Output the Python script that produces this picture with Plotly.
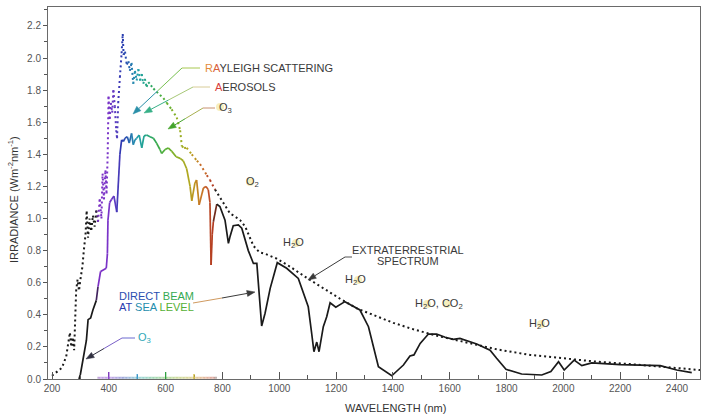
import math
import plotly.graph_objects as go

# Extraterrestrial solar spectrum (dotted)
et_wl = [200, 215, 235, 250, 258, 263, 268, 273, 278, 285, 290, 295, 300, 307, 312, 318,
         322, 327, 332, 338, 344, 350, 356, 362, 368, 374, 378, 383, 388, 392, 396, 399,
         403, 407, 412, 416, 421, 426, 429, 433, 439, 445, 449, 452, 457, 463, 469, 474,
         480, 486, 492, 498, 504, 510, 516, 521, 527, 533, 539, 548, 557, 568, 580, 592,
         604, 621, 639, 651, 657, 665, 674, 692, 710, 721, 745, 756, 774, 791, 803, 827,
         838, 862, 880, 909, 930, 950, 991, 1038, 1097, 1155, 1214, 1273, 1331, 1401,
         1472, 1542, 1648, 1765, 1883, 2000, 2117, 2235, 2352, 2481]
et_irr = [0.02, 0.04, 0.07, 0.14, 0.25, 0.29, 0.20, 0.26, 0.18, 0.55, 0.62, 0.55, 0.62, 0.70,
          0.80, 0.90, 1.05, 0.88, 1.00, 0.92, 1.02, 0.95, 1.05, 0.98, 1.12, 1.00, 1.28, 1.12,
          1.30, 1.15, 1.40, 1.76, 1.62, 1.72, 1.66, 1.80, 1.70, 1.55, 1.50, 1.72, 1.88, 2.03,
          2.15, 2.02, 2.04, 1.96, 1.98, 1.92, 1.97, 1.84, 1.92, 1.86, 1.93, 1.86, 1.90, 1.84,
          1.87, 1.82, 1.85, 1.83, 1.81, 1.79, 1.77, 1.75, 1.72, 1.68, 1.63, 1.55, 1.45, 1.44,
          1.44, 1.40, 1.36, 1.34, 1.27, 1.24, 1.18, 1.13, 1.10, 1.03, 1.02, 0.99, 0.95, 0.83,
          0.79, 0.78, 0.75, 0.70, 0.63, 0.565, 0.50, 0.44, 0.40, 0.35, 0.31, 0.275, 0.232,
          0.185, 0.15, 0.129, 0.108, 0.093, 0.077, 0.056]

# Direct beam at sea level (solid)
db_wl = [295, 300, 309, 321, 327, 336, 344, 356, 362, 371, 391, 395, 397, 403, 410, 418,
         428, 439, 445, 451, 457, 465, 472, 480, 486, 492, 498, 507, 516, 524, 533, 545,
         557, 568, 580, 586, 598, 609, 621, 637, 651, 662, 674, 686, 692, 703, 709, 718,
         733, 742, 750, 756, 760, 764, 768, 780, 791, 809, 821, 827, 838, 856, 868, 891,
         909, 921, 926, 938, 950, 968, 993, 1026, 1067, 1085, 1102, 1114, 1122, 1132, 1140,
         1155, 1167, 1179, 1199, 1231, 1284, 1314, 1331, 1349, 1396, 1437, 1460, 1474, 1496,
         1525, 1554, 1584, 1613, 1636, 1695, 1742, 1765, 1798, 1853, 1924, 1956, 1983, 2003,
         2038, 2065, 2100, 2200, 2341, 2399, 2452]
db_irr = [0.0, 0.03, 0.12, 0.24, 0.37, 0.38, 0.43, 0.49, 0.575, 0.67, 0.69, 0.78, 0.99, 1.10,
          1.12, 1.14, 1.04, 1.40, 1.49, 1.48, 1.50, 1.51, 1.47, 1.53, 1.46, 1.49, 1.50, 1.52,
          1.44, 1.515, 1.52, 1.51, 1.50, 1.47, 1.43, 1.405, 1.43, 1.44, 1.42, 1.385, 1.375,
          1.36, 1.31, 1.20, 1.11, 1.22, 1.24, 1.085, 1.19, 1.20, 1.18, 1.10, 0.71, 0.90, 0.98,
          1.09, 1.075, 0.99, 0.845, 0.89, 0.955, 0.96, 0.94, 0.80, 0.72, 0.72, 0.62, 0.33,
          0.41, 0.565, 0.725, 0.69, 0.627, 0.534, 0.45, 0.285, 0.17, 0.23, 0.17, 0.326, 0.388,
          0.475, 0.447, 0.482, 0.43, 0.326, 0.20, 0.077, 0.02, 0.087, 0.143, 0.15, 0.222, 0.28,
          0.28, 0.26, 0.247, 0.253, 0.218, 0.18, 0.129, 0.06, 0.031, 0.025, 0.046, 0.108,
          0.056, 0.118, 0.083, 0.10, 0.09, 0.083, 0.056, 0.04]

x_tick_vals = list(range(200, 2401, 200))
y_tick_vals = [round(0.2 * i, 1) for i in range(12)]

# Colour stops for the visible part of both curves
band_wl = [355, 365, 400, 425, 445, 465, 485, 505, 530, 560, 600, 640, 680, 705, 730, 750, 768, 782]
band_col = ["#1a1a1a", "#7b2fc4", "#7a34c8", "#5a3cc0", "#2a38b0", "#2a55b0", "#2483b0",
            "#20a0a8", "#25a588", "#30a855", "#55b035", "#90b025", "#b0a820", "#c09020",
            "#c87028", "#c05028", "#b03820", "#1a1a1a"]
INK = "#1a1a1a"

# Figure frame (pixels)
W, H = 702, 417
ML, MR, MT, MB = 48, 2, 7, 38
PW, PH = W - ML - MR, H - MT - MB
X_RANGE = [185.9, 2481]
Y_RANGE = [0, 2.318]


def hex2rgb(h):
    h = h.lstrip("#")
    return [int(h[i:i + 2], 16) for i in (0, 2, 4)]


def rgb2hex(c):
    return "#%02x%02x%02x" % tuple(int(round(v)) for v in c)


def spectral(wl):
    if wl <= band_wl[0] or wl >= band_wl[-1]:
        return INK
    for i in range(len(band_wl) - 1):
        if band_wl[i] <= wl <= band_wl[i + 1]:
            t = (wl - band_wl[i]) / (band_wl[i + 1] - band_wl[i])
            a, b = hex2rgb(band_col[i]), hex2rgb(band_col[i + 1])
            return rgb2hex([a[k] + (b[k] - a[k]) * t for k in range(3)])
    return INK


def pastel(h, f=0.55):
    c = hex2rgb(h)
    return rgb2hex([v + (255 - v) * f for v in c])


def P(px, py):
    """pixel position -> paper coordinates"""
    return (px - ML) / PW, (MT + PH - py) / PH


fig = go.Figure()


def add_curve(wl, irr, dash, width):
    runs = []
    for i in range(len(wl) - 1):
        c = spectral((wl[i] + wl[i + 1]) / 2)
        if runs and runs[-1][0] == c:
            runs[-1][1].append(wl[i + 1])
            runs[-1][2].append(irr[i + 1])
        else:
            runs.append([c, [wl[i], wl[i + 1]], [irr[i], irr[i + 1]]])
    for c, xs, ys in runs:
        fig.add_trace(go.Scatter(x=xs, y=ys, mode="lines", showlegend=False, hoverinfo="skip",
                                 line=dict(color=c, width=width, dash=dash)))


add_curve(et_wl, et_irr, "2px,3px", 2)
add_curve(db_wl, db_irr, "solid", 1.7)

shapes = []

# pastel visible band along the wavelength axis
for w0 in range(360, 780, 5):
    shapes.append(dict(type="line", xref="x", yref="paper", x0=w0, x1=w0 + 5,
                       y0=1.2 / PH, y1=1.2 / PH, line=dict(color=pastel(spectral(w0 + 2.5)), width=2)))

# coloured tick marks in the visible range
for wv, col, ln in [(400, "#8a3cd0", 7), (500, "#3a9ad0", 5), (600, "#30a040", 7), (700, "#d0b830", 5)]:
    shapes.append(dict(type="line", xref="x", yref="paper", x0=wv, x1=wv, y0=0, y1=ln / PH,
                       line=dict(color=col, width=1.3)))


def seg(p0, p1, color, width=1):
    x0, y0 = P(*p0)
    x1, y1 = P(*p1)
    shapes.append(dict(type="line", xref="paper", yref="paper", x0=x0, y0=y0, x1=x1, y1=y1,
                       line=dict(color=color, width=width)))


def arrow(head, tail, color, length=8, half=3):
    """line from tail to head, finished with a filled triangular head"""
    dx, dy = head[0] - tail[0], head[1] - tail[1]
    n = math.hypot(dx, dy)
    ux, uy = dx / n, dy / n
    base = (head[0] - ux * length, head[1] - uy * length)
    seg(tail, base, color)
    c1 = (base[0] - uy * half, base[1] + ux * half)
    c2 = (base[0] + uy * half, base[1] - ux * half)
    pts = [P(*head), P(*c1), P(*c2)]
    path = "M %f %f L %f %f L %f %f Z" % (pts[0] + pts[1] + pts[2])
    shapes.append(dict(type="path", xref="paper", yref="paper", path=path,
                       fillcolor=color, line=dict(color=color, width=0.5)))


def mid(a, b, t=0.5):
    return (a[0] + (b[0] - a[0]) * t, a[1] + (b[1] - a[1]) * t)


def label(px, py, text, color="#3a3a3a", size=11, anchor="left", angle=0):
    x, y = P(px, py)
    fig.add_annotation(x=x, y=y, xref="paper", yref="paper", text=text, showarrow=False,
                       xanchor=anchor, yanchor="middle", textangle=angle,
                       font=dict(size=size, color=color))


# Rayleigh scattering callout
seg((200, 68), (182, 68), "#a8c850")
elbow, head = (182, 68), (133, 114)
seg(elbow, mid(elbow, head), "#78c050")
arrow(head, mid(elbow, head), "#2a8fa8")
label(203, 68, "<span style='color:#e38a3a'>R</span><span style='color:#d8603a'>A</span>YLEIGH SCATTERING")

# Aerosols callout
seg((210, 87), (193, 87), "#d8cc98")
elbow, head = (193, 87), (144, 113)
seg(elbow, mid(elbow, head), "#a8c878")
arrow(head, mid(elbow, head), "#38b088")
label(213, 87, "<span style='color:#d8403a'>A</span>EROSOLS")

# Ozone callout (upper)
seg((215, 108), (203, 108), "#c89070")
elbow, head = (203, 108), (168, 129)
seg(elbow, mid(elbow, head), "#a8b050")
arrow(head, mid(elbow, head), "#44a42c")
label(217, 108, "O<sub>3</sub>")

# Ozone callout (lower)
seg((135, 338), (122, 338), "#6a6ad0")
elbow, head = (122, 338), (86, 359)
seg(elbow, mid(elbow, head), "#7a60c8")
arrow(head, mid(elbow, head), "#303040")
label(136, 338, "O<sub>3</sub>", color="#30a8b8")

# Direct beam callout
seg((193, 303), (222, 298), "#d09a60")
arrow((255, 292), (222, 298), "#3a3a3a")


def rainbow_words(words):
    return " ".join("<span style='color:%s'>%s</span>" % (spectral(w), s) for s, w in words)


label(117, 296, rainbow_words([("DIRECT", 460), ("BEAM", 565)]))
label(117, 307, rainbow_words([("AT", 448), ("SEA", 492), ("LEVEL", 600)]))

# Extraterrestrial callout
seg((352, 257), (345, 257), "#555555")
arrow((308, 280), (345, 257), "#3a3a3a")
label(408, 250, "EXTRATERRESTRIAL", anchor="center")
label(408, 261, "SPECTRUM", anchor="center")

# absorbing species; O glyphs sit on pale yellow discs
for cx, cy in [(250, 182), (296, 243), (358, 280), (427, 304), (447, 304), (541, 324), (220, 107)]:
    x0, y0 = P(cx - 4, cy + 4)
    x1, y1 = P(cx + 4, cy - 4)
    shapes.append(dict(type="circle", xref="paper", yref="paper", x0=x0, y0=y0, x1=x1, y1=y1,
                       fillcolor="#f7efbd", line=dict(width=0), layer="above"))

label(252, 182, "O<sub>2</sub>", anchor="center")
label(281, 243, "H<sub>2</sub>O")
label(343, 280, "H<sub>2</sub>O")
label(413, 304, "H<sub>2</sub>O, CO<sub>2</sub>")
label(527, 324, "H<sub>2</sub>O")

# axis titles
label(13, 200, "IRRADIANCE (Wm<sup>-2</sup>nm<sup>-1</sup>)", color="#333333", anchor="center", angle=-90)
label(395, 408, "WAVELENGTH (nm)", color="#333333", anchor="center")

fig.update_layout(
    width=W, height=H, autosize=False,
    margin=dict(l=ML, r=MR, t=MT, b=MB, pad=0),
    paper_bgcolor="white", plot_bgcolor="white",
    font=dict(family="Liberation Sans, Arial, sans-serif", color="#444444"),
    shapes=shapes,
    xaxis=dict(range=X_RANGE, tickmode="array", tickvals=x_tick_vals,
               ticks="inside", ticklen=7, tickcolor="#555555", tickwidth=1,
               showline=True, linecolor="#6a6a6a", linewidth=1, mirror=True,
               showgrid=False, zeroline=False, tickfont=dict(size=10, color="#555555"),
               minor=dict(ticks="inside", ticklen=4, dtick=100, tick0=0, tickcolor="#555555",
                          showgrid=False)),
    yaxis=dict(range=Y_RANGE, tickmode="array", tickvals=y_tick_vals, tickformat=".1f",
               ticks="outside", ticklen=4, tickcolor="#555555", tickwidth=1,
               showline=True, linecolor="#6a6a6a", linewidth=1, mirror=True,
               showgrid=False, zeroline=False, tickfont=dict(size=10, color="#555555"),
               minor=dict(ticks="outside", ticklen=3, dtick=0.1, tick0=0, tickcolor="#555555",
                          showgrid=False)),
)

fig.write_html("out.html")
